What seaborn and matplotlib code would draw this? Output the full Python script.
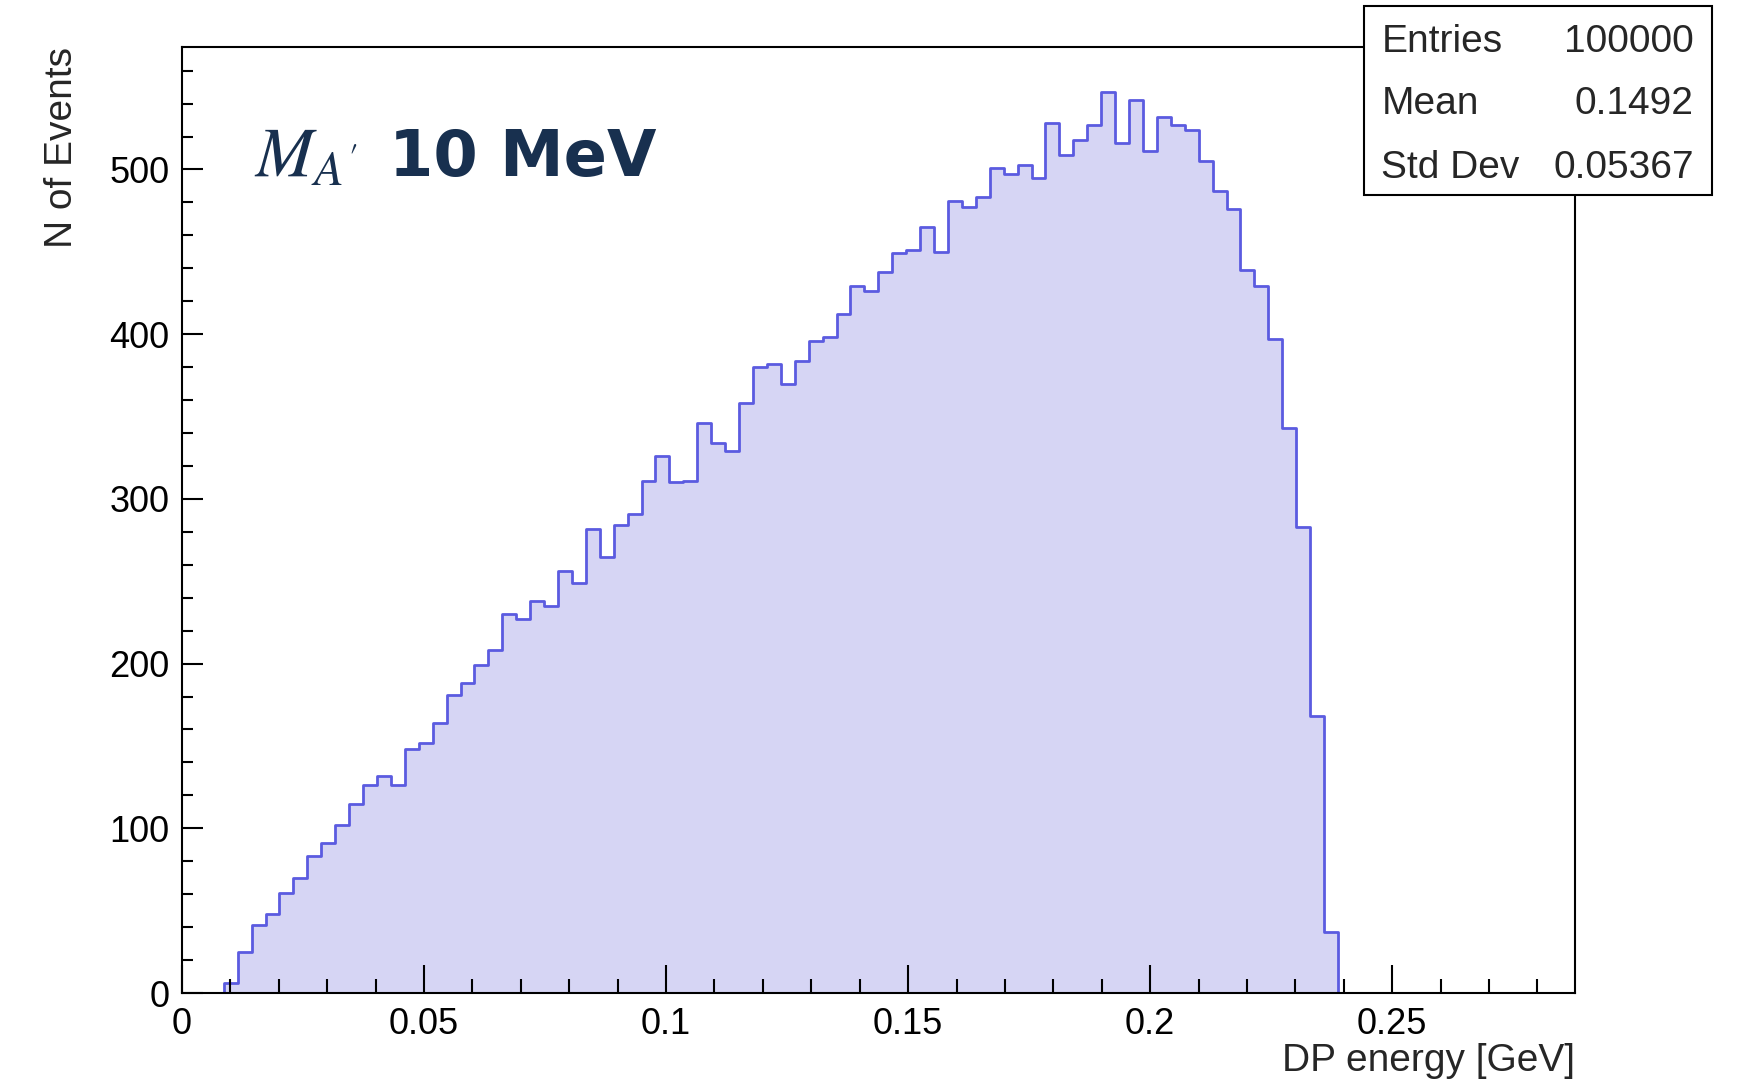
import numpy as np
import pandas as pd
import seaborn as sns
import matplotlib.pyplot as plt
from matplotlib.patches import Rectangle
from matplotlib.ticker import MultipleLocator, FuncFormatter

# Histogram: 100 bins on [0, X_MAX], only bins 3..82 hold entries
X_MAX = 0.2877
N_BINS = 100
FIRST_BIN = 3
counts = [6, 25, 41, 48, 61, 70, 83, 91, 102, 115,
          126, 132, 126, 148, 152, 164, 181, 188, 199, 208,
          230, 227, 238, 235, 256, 249, 282, 265, 284, 291,
          311, 326, 310, 311, 346, 334, 329, 358, 380, 382,
          370, 384, 396, 398, 412, 429, 426, 438, 449, 451,
          465, 450, 481, 477, 483, 501, 497, 503, 495, 528,
          509, 518, 527, 547, 516, 542, 511, 532, 527, 524,
          505, 487, 476, 439, 429, 397, 343, 283, 168, 37]

stat_names = ["Entries", "Mean", "Std Dev"]
stat_values = ["100000", "0.1492", "0.05367"]

x_label = "DP energy [GeV]"
y_label = "N of Events"
x_ticks = [0, 0.05, 0.1, 0.15, 0.2, 0.25]

sns.set_style("white")
plt.rcParams["font.family"] = ["Liberation Sans", "DejaVu Sans"]
plt.rcParams["mathtext.fontset"] = "stix"

edges = np.linspace(0, X_MAX, N_BINS + 1)
used = edges[FIRST_BIN:FIRST_BIN + len(counts) + 1]
df = pd.DataFrame({"energy": (used[:-1] + used[1:]) / 2, "n": counts})

fig = plt.figure(figsize=(17.53, 10.88), dpi=100)
ax = fig.add_axes([0.1038, 0.0873, 0.7945, 0.8695])

sns.histplot(data=df, x="energy", weights="n", bins=len(counts),
             binrange=(used[0], used[-1]), element="step",
             fill=True, facecolor="#d6d5f4", edgecolor="#5b5be0",
             linewidth=2, ax=ax)

ax.set_xlim(0, X_MAX)
ax.set_ylim(0, 1.05 * max(counts))
ax.set_axisbelow(False)  # ticks drawn over the fill, like ROOT

ax.set_xticks(x_ticks)
ax.xaxis.set_minor_locator(MultipleLocator(0.01))
ax.yaxis.set_major_locator(MultipleLocator(100))
ax.yaxis.set_minor_locator(MultipleLocator(20))
ax.xaxis.set_major_formatter(FuncFormatter(lambda v, p: "%g" % v))

ax.tick_params(which="both", direction="in", top=False, right=False,
               bottom=True, left=True, width=1.5, colors="black")
ax.tick_params(axis="x", which="major", length=20, pad=10, labelsize=26)
ax.tick_params(axis="x", which="minor", length=10)
ax.tick_params(axis="y", which="major", length=15, pad=9, labelsize=26)
ax.tick_params(axis="y", which="minor", length=8)

for s in ax.spines.values():
    s.set_linewidth(1.5)
    s.set_color("black")
    s.set_zorder(3)

ax.set_xlabel(x_label, fontsize=28, loc="right")
ax.xaxis.set_label_coords(1.0, -0.053)
ax.set_ylabel(y_label, fontsize=28, loc="top")
ax.yaxis.set_label_coords(-0.073, 1.0)

# heading inside the frame
ax.text(0.052, 0.864, r"$M_{A'}$", transform=ax.transAxes, fontsize=50,
        color="#18304f", ha="left", va="baseline")
ax.text(0.149, 0.864, "10 MeV", transform=ax.transAxes, fontsize=46,
        fontweight="heavy", family="DejaVu Sans", color="#18304f",
        ha="left", va="baseline")

# stats box
fig.patches.append(Rectangle((0.778, 0.8212), 0.1986, 0.1737,
                             transform=fig.transFigure, facecolor="white",
                             edgecolor="black", linewidth=1.5, zorder=5))
row_y = [0.9615, 0.904, 0.8455]
for name, val, yy in zip(stat_names, stat_values, row_y):
    fig.text(0.788, yy, name, fontsize=28, ha="left", va="center", zorder=6)
    fig.text(0.9663, yy, val, fontsize=28, ha="right", va="center", zorder=6)

fig.savefig("out.png", dpi=100, facecolor="white")
